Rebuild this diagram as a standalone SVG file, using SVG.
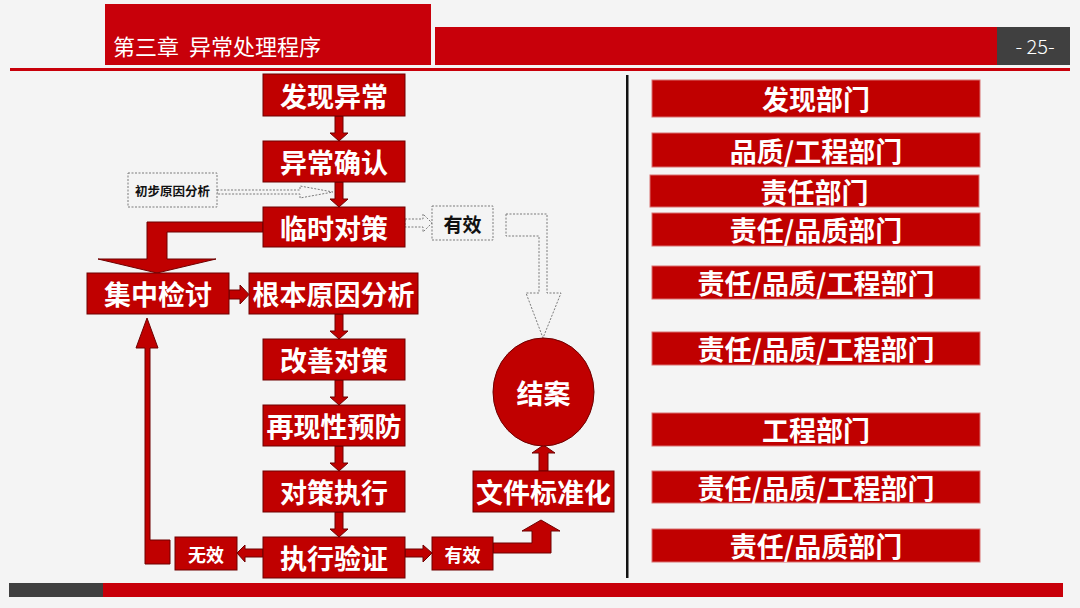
<svg xmlns="http://www.w3.org/2000/svg" width="1080" height="608" viewBox="0 0 1080 608">
<style>
.bg{fill:#f4f4f4}
.box{fill:#c00000;stroke:#6e0000;stroke-width:1}
.rbox{fill:#c00000;stroke:#d87070;stroke-width:1}
.t{font-family:"Noto Sans CJK SC","Noto Sans",sans-serif;font-weight:bold;fill:#ffffff;text-anchor:middle;dominant-baseline:central}
.t26{font-size:27px}
.t18{font-size:18px}
.dk{fill:#111111}
.dot{fill:#f4f4f4;stroke:#7a7a7a;stroke-width:1;stroke-dasharray:2 1.5}
.arr{fill:#c00000;stroke:#6e0000;stroke-width:1;stroke-linejoin:miter}
.hd{font-family:"Noto Sans CJK SC","Noto Sans",sans-serif;fill:#ffffff}
</style>
<rect class="bg" x="0" y="0" width="1080" height="608"/>

<g id="header">
<rect x="105" y="4" width="326" height="61" fill="#c8000a"/>
<rect x="435" y="27" width="562" height="38" fill="#c8000a"/>
<rect x="997" y="27" width="73" height="38" fill="#404040"/>
<rect x="10" y="68" width="1060" height="3" fill="#c8000a"/>
<text class="hd" x="113" y="55" font-size="22"><tspan>第三章</tspan><tspan x="189">异常处理程序</tspan></text>
<text class="hd" x="1035" y="54" font-size="20" text-anchor="middle" font-weight="300">- 25-</text>
</g>

<g id="footer">
<rect x="9" y="583" width="94" height="14" fill="#404040"/>
<rect x="103" y="583" width="960" height="14" fill="#c8000a"/>
</g>

<g id="divider">
<rect x="626" y="75" width="2.5" height="503" fill="#111111"/>
</g>

<g id="connectors">
<polygon class="arr" points="335,116 343,116 343,133 348,133 339,141 330,133 335,133"/>
<polygon class="arr" points="335,182 343,182 343,199 348,199 339,207 330,199 335,199"/>
<polygon class="dot" points="217,190 300,190 300,186 333,192 300,198 300,194 217,194"/>
<polygon class="dot" points="405,219 423,219 423,214 432,223 423,232 423,227 405,227"/>
<polygon class="dot" points="506,214 547,214 547,293 561,293 543,338 526,293 539,293 539,236 506,236"/>
<polygon class="arr" points="263,222 147,222 147,259 98,259 157,273 216,259 167,259 167,232 263,232"/>
<polygon class="arr" points="229,290 240,290 240,285 249,294.5 240,304 240,299 229,299"/>
<polygon class="arr" points="335,314 343,314 343,331 348,331 339,339 330,331 335,331"/>
<polygon class="arr" points="335,380 343,380 343,397 348,397 339,405 330,397 335,397"/>
<polygon class="arr" points="335,446 343,446 343,463 348,463 339,471 330,463 335,463"/>
<polygon class="arr" points="335,512 343,512 343,529 348,529 339,537 330,529 335,529"/>
<polygon class="arr" points="263,549 245,549 245,545 237,553 245,562 245,557 263,557"/>
<polygon class="arr" points="405,549 423,549 423,545 432,553 423,562 423,557 405,557"/>
<polygon class="arr" points="493,543 532,543 532,531 522,531 541,520 560,531 551,531 551,553 493,553"/>
<polygon class="arr" points="539,471 548,471 548,453 555,453 543.5,445 532,453 539,453"/>
<polygon class="arr" points="145,564 170,564 170,540 150,540 150,348 158,348 147,318 136,348 145,348"/>
</g>

<g id="n-faxian"><rect class="box" x="263" y="74" width="142" height="42"/><text class="t t26" x="334" y="95">发现异常</text></g>
<g id="n-queren"><rect class="box" x="263" y="141" width="142" height="41"/><text class="t t26" x="334" y="161.5">异常确认</text></g>
<g id="n-chubu"><rect class="dot" x="128" y="173" width="89" height="34"/><text class="t dk" x="172.5" y="190" font-size="12.5">初步原因分析</text></g>
<g id="n-linshi"><rect class="box" x="263" y="207" width="142" height="40"/><text class="t t26" x="334" y="227">临时对策</text></g>
<g id="n-youxiao1"><rect class="dot" x="432" y="206" width="61" height="34"/><text class="t dk" x="462.5" y="223" font-size="19">有效</text></g>
<g id="n-jizhong"><rect class="box" x="87" y="273" width="142" height="41"/><text class="t t26" x="158" y="293.5">集中检讨</text></g>
<g id="n-genben"><rect class="box" x="249" y="273" width="169" height="41"/><text class="t t26" x="333.5" y="293.5">根本原因分析</text></g>
<g id="n-gaishan"><rect class="box" x="263" y="339" width="142" height="41"/><text class="t t26" x="334" y="359.5">改善对策</text></g>
<g id="n-zaixian"><rect class="box" x="263" y="405" width="142" height="41"/><text class="t t26" x="334" y="425.5">再现性预防</text></g>
<g id="n-zhixing"><rect class="box" x="263" y="471" width="142" height="41"/><text class="t t26" x="334" y="491.5">对策执行</text></g>
<g id="n-yanzheng"><rect class="box" x="263" y="537" width="142" height="41"/><text class="t t26" x="334" y="557.5">执行验证</text></g>
<g id="n-wuxiao"><rect class="box" x="175" y="537" width="62" height="33"/><text class="t t18" x="206" y="553.5">无效</text></g>
<g id="n-youxiao2"><rect class="box" x="432" y="537" width="61" height="33"/><text class="t t18" x="462.5" y="553.5">有效</text></g>
<g id="n-wenjian"><rect class="box" x="473" y="471" width="141" height="41"/><text class="t t26" x="543.5" y="491.5">文件标准化</text></g>
<g id="n-jiean"><ellipse class="box" cx="543.5" cy="392" rx="50.5" ry="54"/><text class="t t26" x="543.5" y="392">结案</text></g>

<g id="r1"><rect class="rbox" x="652" y="80" width="328" height="37"/><text class="t t26" x="816" y="98.5">发现部门</text></g>
<g id="r2"><rect class="rbox" x="652" y="133" width="328" height="34"/><text class="t t26" x="816" y="150">品质/工程部门</text></g>
<g id="r3"><rect class="rbox" x="650" y="175" width="329" height="32"/><text class="t t26" x="814.5" y="191">责任部门</text></g>
<g id="r4"><rect class="rbox" x="652" y="213" width="328" height="33"/><text class="t t26" x="816" y="229.5">责任/品质部门</text></g>
<g id="r5"><rect class="rbox" x="652" y="266" width="328" height="33"/><text class="t t26" x="816" y="282.5">责任/品质/工程部门</text></g>
<g id="r6"><rect class="rbox" x="652" y="332" width="328" height="33"/><text class="t t26" x="816" y="348.5">责任/品质/工程部门</text></g>
<g id="r7"><rect class="rbox" x="652" y="413" width="328" height="33"/><text class="t t26" x="816" y="429.5">工程部门</text></g>
<g id="r8"><rect class="rbox" x="652" y="471" width="328" height="32"/><text class="t t26" x="816" y="487">责任/品质/工程部门</text></g>
<g id="r9"><rect class="rbox" x="652" y="529" width="328" height="33"/><text class="t t26" x="816" y="545.5">责任/品质部门</text></g>
</svg>
